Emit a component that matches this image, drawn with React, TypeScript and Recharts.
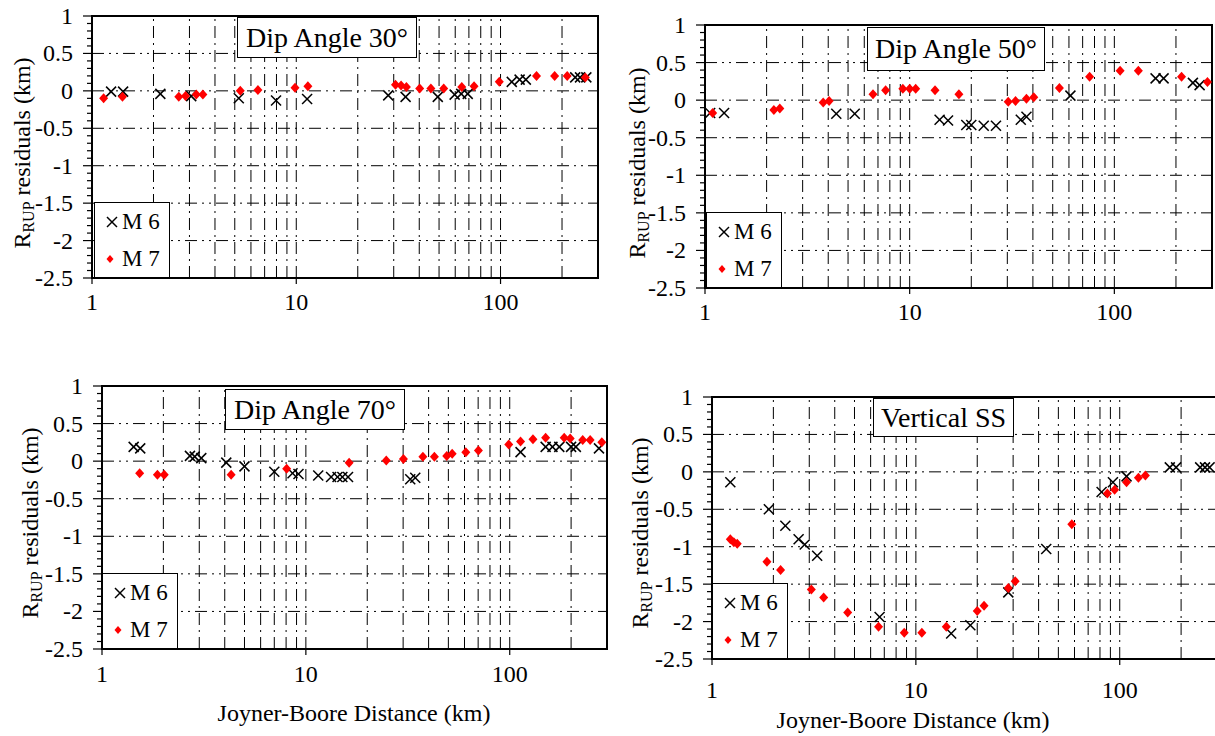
import React from "react"
import { ScatterChart, Scatter, XAxis, YAxis, ReferenceLine, ReferenceArea } from "recharts"

// distance axis (log) and residual axis
const distTicks = [1, 10, 100]
const distGrid = [2, 3, 4, 5, 6, 7, 8, 9, 10, 20, 30, 40, 50, 60, 70, 80, 90, 100, 200]
const resTicks = [
  -2.5, -2.4, -2.3, -2.2, -2.1, -2, -1.9, -1.8, -1.7, -1.6, -1.5, -1.4, -1.3, -1.2, -1.1, -1,
  -0.9, -0.8, -0.7, -0.6, -0.5, -0.4, -0.3, -0.2, -0.1, 0, 0.1, 0.2, 0.3, 0.4, 0.5, 0.6, 0.7,
  0.8, 0.9, 1,
]
const resGrid = [-2, -1.5, -1, -0.5, 0, 0.5]

// [distance km, residual km]
const dip30M6 = [
  [1.24, -0.01], [1.42, -0.01], [2.16, -0.04], [3.06, -0.07], [5.23, -0.1], [7.96, -0.13],
  [11.3, -0.11], [28.2, -0.06], [34.3, -0.08], [49.3, -0.08], [59.6, -0.05], [64.2, -0.04],
  [69.1, -0.04], [113.5, 0.12], [124, 0.15], [133, 0.15], [232, 0.18], [245, 0.18], [263, 0.18],
]
const dip30M7 = [
  [1.14, -0.1], [1.41, -0.08], [2.66, -0.08], [2.87, -0.07], [3.24, -0.05], [3.49, -0.05],
  [5.32, 0.0], [6.49, 0.01], [9.86, 0.04], [11.4, 0.06], [30.6, 0.08], [32.6, 0.07], [34.6, 0.05],
  [40.2, 0.03], [45.6, 0.03], [52.7, 0.03], [64.6, 0.05], [74.2, 0.06], [98.6, 0.12], [150, 0.2],
  [184, 0.2], [212, 0.2], [260, 0.18],
]

const dip50M6 = [
  [1.06, -0.17], [1.24, -0.17], [4.38, -0.18], [5.39, -0.18], [14.0, -0.26], [15.4, -0.27],
  [18.9, -0.33], [20, -0.33], [23, -0.34], [26.4, -0.34], [34.9, -0.26], [37.2, -0.22],
  [61, 0.06], [159, 0.29], [174, 0.29], [242, 0.23], [261, 0.2],
]
const dip50M7 = [
  [1.09, -0.17], [2.17, -0.13], [2.32, -0.11], [3.78, -0.03], [4.04, -0.01], [6.62, 0.08],
  [7.63, 0.13], [9.26, 0.15], [10.0, 0.15], [10.7, 0.15], [13.3, 0.13], [17.4, 0.08],
  [30.3, -0.02], [32.9, -0.01], [37.2, 0.02], [40.4, 0.04], [53.9, 0.16], [75.7, 0.31],
  [106.7, 0.39], [131, 0.39], [213, 0.31], [285, 0.24],
]

const dip70M6 = [
  [1.43, 0.19], [1.54, 0.17], [2.7, 0.07], [2.85, 0.06], [3.07, 0.04], [4.07, -0.02], [5.0, -0.07],
  [7.0, -0.14], [8.6, -0.16], [9.2, -0.17], [11.5, -0.19], [13.3, -0.21], [14.3, -0.21],
  [15.1, -0.21], [16.1, -0.21], [32.5, -0.24], [34.4, -0.22], [113, 0.12], [150, 0.19],
  [162, 0.19], [175, 0.19], [200, 0.19], [211, 0.19], [274, 0.17],
]
const dip70M7 = [
  [1.53, -0.16], [1.87, -0.18], [2.02, -0.18], [4.3, -0.18], [8.05, -0.1], [16.3, -0.02],
  [24.8, 0.01], [30.1, 0.03], [37.5, 0.06], [42.7, 0.06], [49.1, 0.07], [52.2, 0.1], [60.9, 0.12],
  [70.2, 0.14], [98.9, 0.22], [113, 0.26], [130, 0.29], [150, 0.31], [185, 0.31], [198, 0.3],
  [228, 0.28], [248, 0.28], [283, 0.25],
]

const vertM6 = [
  [1.23, -0.14], [1.9, -0.5], [2.29, -0.72], [2.66, -0.9], [2.85, -0.97], [3.28, -1.12],
  [6.64, -1.94], [14.9, -2.16], [18.5, -2.05], [28.4, -1.61], [43.6, -1.03], [81.5, -0.27],
  [92.6, -0.14], [108, -0.06], [176, 0.06], [189, 0.06], [248, 0.06], [262, 0.06], [276, 0.06],
]
const vertM7 = [
  [1.23, -0.9], [1.28, -0.94], [1.33, -0.96], [1.86, -1.2], [2.17, -1.31], [3.07, -1.57],
  [3.53, -1.68], [4.63, -1.88], [6.56, -2.07], [8.77, -2.15], [10.7, -2.15], [14.1, -2.07],
  [20.0, -1.86], [21.6, -1.79], [28.4, -1.55], [30.7, -1.46], [58.2, -0.7], [87.0, -0.29],
  [94.4, -0.24], [108, -0.14], [123.5, -0.08], [133.6, -0.05],
]

const FONT = "'Liberation Serif', 'Times New Roman', Times, serif"

const toPoints = (arr: number[][]) => arr.map(([d, r]) => ({ d, r }))

function XMark(props: any) {
  const { cx, cy } = props
  const s = 5
  return (
    <g>
      <line x1={cx - s} y1={cy - s} x2={cx + s} y2={cy + s} stroke="#000" strokeWidth={1.5} />
      <line x1={cx - s} y1={cy + s} x2={cx + s} y2={cy - s} stroke="#000" strokeWidth={1.5} />
    </g>
  )
}

function Diamond(props: any) {
  const { cx, cy } = props
  return (
    <polygon
      points={`${cx},${cy - 5} ${cx + 4.5},${cy} ${cx},${cy + 5} ${cx - 4.5},${cy}`}
      fill="#ff0000"
    />
  )
}

function YTick(props: any) {
  const { x, y, payload } = props
  const v = payload.value
  const major = Math.abs(v * 2 - Math.round(v * 2)) < 1e-6
  return (
    <g>
      <line x1={x - (major ? 9 : 5)} y1={y} x2={x} y2={y} stroke="#000" strokeWidth={1.2} />
      {major && (
        <text x={x - 19} y={y + 8} textAnchor="end" style={{ fontSize: 24, fontFamily: FONT }} fill="#000">
          {v}
        </text>
      )}
    </g>
  )
}

function XTick(props: any) {
  const { x, y, payload, gap } = props
  return (
    <g>
      <line x1={x} y1={y} x2={x} y2={y + 6} stroke="#000" strokeWidth={1.2} />
      <text x={x} y={y + gap + 8} textAnchor="middle" style={{ fontSize: 24, fontFamily: FONT }} fill="#000">
        {payload.value}
      </text>
    </g>
  )
}

const panels = [
  {
    key: "p30",
    title: "Dip Angle 30°",
    m6: dip30M6,
    m7: dip30M7,
    left: 0, top: 0, width: 602, height: 328,
    margin: { top: 16, right: 4, bottom: 0, left: 32 },
    titleBox: { x: 237, y: 17, w: 180, h: 41 },
    legend: { x: 94, y: 202 },
    yLabel: { x: 22, y: 153 },
    xTickGap: 24,
    xTitle: null,
  },
  {
    key: "p50",
    title: "Dip Angle 50°",
    m6: dip50M6,
    m7: dip50M7,
    left: 613, top: 0, width: 602, height: 338,
    margin: { top: 25, right: 3, bottom: 0, left: 32 },
    titleBox: { x: 867, y: 27, w: 178, h: 44 },
    legend: { x: 706, y: 212 },
    yLabel: { x: 637, y: 163 },
    xTickGap: 24,
    xTitle: null,
  },
  {
    key: "p70",
    title: "Dip Angle 70°",
    m6: dip70M6,
    m7: dip70M7,
    left: 10, top: 370, width: 600, height: 329,
    margin: { top: 16, right: 3, bottom: 0, left: 32 },
    titleBox: { x: 225, y: 389, w: 180, h: 41 },
    legend: { x: 102, y: 573 },
    yLabel: { x: 30, y: 523 },
    xTickGap: 25,
    xTitle: { x: 354, y: 713 },
  },
  {
    key: "pss",
    title: "Vertical SS",
    m6: vertM6,
    m7: vertM7,
    left: 620, top: 380, width: 600, height: 329,
    margin: { top: 17, right: 3, bottom: 0, left: 32 },
    titleBox: { x: 873, y: 398, w: 141, h: 39 },
    legend: { x: 712, y: 583 },
    yLabel: { x: 640, y: 533 },
    xTickGap: 31,
    xTitle: { x: 913, y: 720 },
  },
]

function Panel({ p }: { p: any }) {
  return (
    <>
      <div style={{ position: "absolute", left: p.left, top: p.top }}>
        <ScatterChart width={p.width} height={p.height} margin={p.margin}>
          <XAxis
            type="number"
            dataKey="d"
            scale="log"
            domain={[1, 300]}
            allowDataOverflow
            ticks={distTicks}
            interval={0}
            height={50}
            tickSize={0}
            tickMargin={0}
            axisLine={false}
            tickLine={false}
            tick={(t: any) => <XTick {...t} gap={p.xTickGap} />}
          />
          <YAxis
            type="number"
            dataKey="r"
            domain={[-2.5, 1]}
            allowDataOverflow
            ticks={resTicks}
            interval={0}
            width={60}
            tickSize={0}
            tickMargin={0}
            axisLine={false}
            tickLine={false}
            tick={(t: any) => <YTick {...t} />}
          />
          {distGrid.map((v) => (
            <ReferenceLine key={"x" + v} x={v} stroke="#000" strokeWidth={1} strokeDasharray="12 5 2 5" />
          ))}
          {resGrid.map((v) => (
            <ReferenceLine key={"y" + v} y={v} stroke="#000" strokeWidth={1} strokeDasharray="12 5 2 5 2 5" />
          ))}
          <ReferenceArea x1={1} x2={300} y1={-2.5} y2={1} fill="none" fillOpacity={0} stroke="#000" strokeWidth={2} />
          <Scatter data={toPoints(p.m6)} shape={XMark} isAnimationActive={false} />
          <Scatter data={toPoints(p.m7)} shape={Diamond} isAnimationActive={false} />
        </ScatterChart>
      </div>

      {/* title box */}
      <div
        style={{
          position: "absolute",
          left: p.titleBox.x,
          top: p.titleBox.y,
          width: p.titleBox.w,
          height: p.titleBox.h,
          boxSizing: "border-box",
          border: "1.5px solid #000",
          background: "#fff",
          display: "flex",
          alignItems: "center",
          justifyContent: "center",
          fontSize: 28,
          fontFamily: FONT,
          whiteSpace: "nowrap",
        }}
      >
        {p.title}
      </div>

      {/* legend */}
      <div
        style={{
          position: "absolute",
          left: p.legend.x,
          top: p.legend.y,
          width: 76,
          height: 76,
          boxSizing: "border-box",
          border: "1px solid #000",
          background: "#fff",
          fontFamily: FONT,
        }}
      >
        <svg width={76} height={76} style={{ position: "absolute", left: -1, top: -1 }}>
          <XMark cx={18} cy={20} />
          <polygon points="16,53 19.5,57 16,61 12.5,57" fill="#ff0000" />
        </svg>
        <span style={{ position: "absolute", left: 27, top: 6, fontSize: 23, lineHeight: "26px" }}>M 6</span>
        <span style={{ position: "absolute", left: 27, top: 43, fontSize: 23, lineHeight: "26px" }}>M 7</span>
      </div>

      {/* y label */}
      <div
        style={{
          position: "absolute",
          left: p.yLabel.x,
          top: p.yLabel.y,
          width: 300,
          height: 30,
          lineHeight: "30px",
          textAlign: "center",
          fontSize: 24,
          fontFamily: FONT,
          whiteSpace: "nowrap",
          transform: "translate(-50%, -50%) rotate(-90deg)",
        }}
      >
        R<span style={{ fontSize: 16, verticalAlign: "-4px" }}>RUP</span> residuals (km)
      </div>

      {p.xTitle && (
        <div
          style={{
            position: "absolute",
            left: p.xTitle.x,
            top: p.xTitle.y,
            width: 400,
            height: 30,
            lineHeight: "30px",
            textAlign: "center",
            fontSize: 24,
            fontFamily: FONT,
            whiteSpace: "nowrap",
            transform: "translate(-50%, -50%)",
          }}
        >
          Joyner-Boore Distance (km)
        </div>
      )}
    </>
  )
}

export default function App() {
  return (
    <div
      style={{
        position: "absolute",
        left: 0,
        top: 0,
        width: 1215,
        height: 736,
        overflow: "hidden",
        background: "#fff",
        fontFamily: FONT,
        color: "#000",
      }}
    >
      {panels.map((p) => (
        <Panel key={p.key} p={p} />
      ))}
    </div>
  )
}
